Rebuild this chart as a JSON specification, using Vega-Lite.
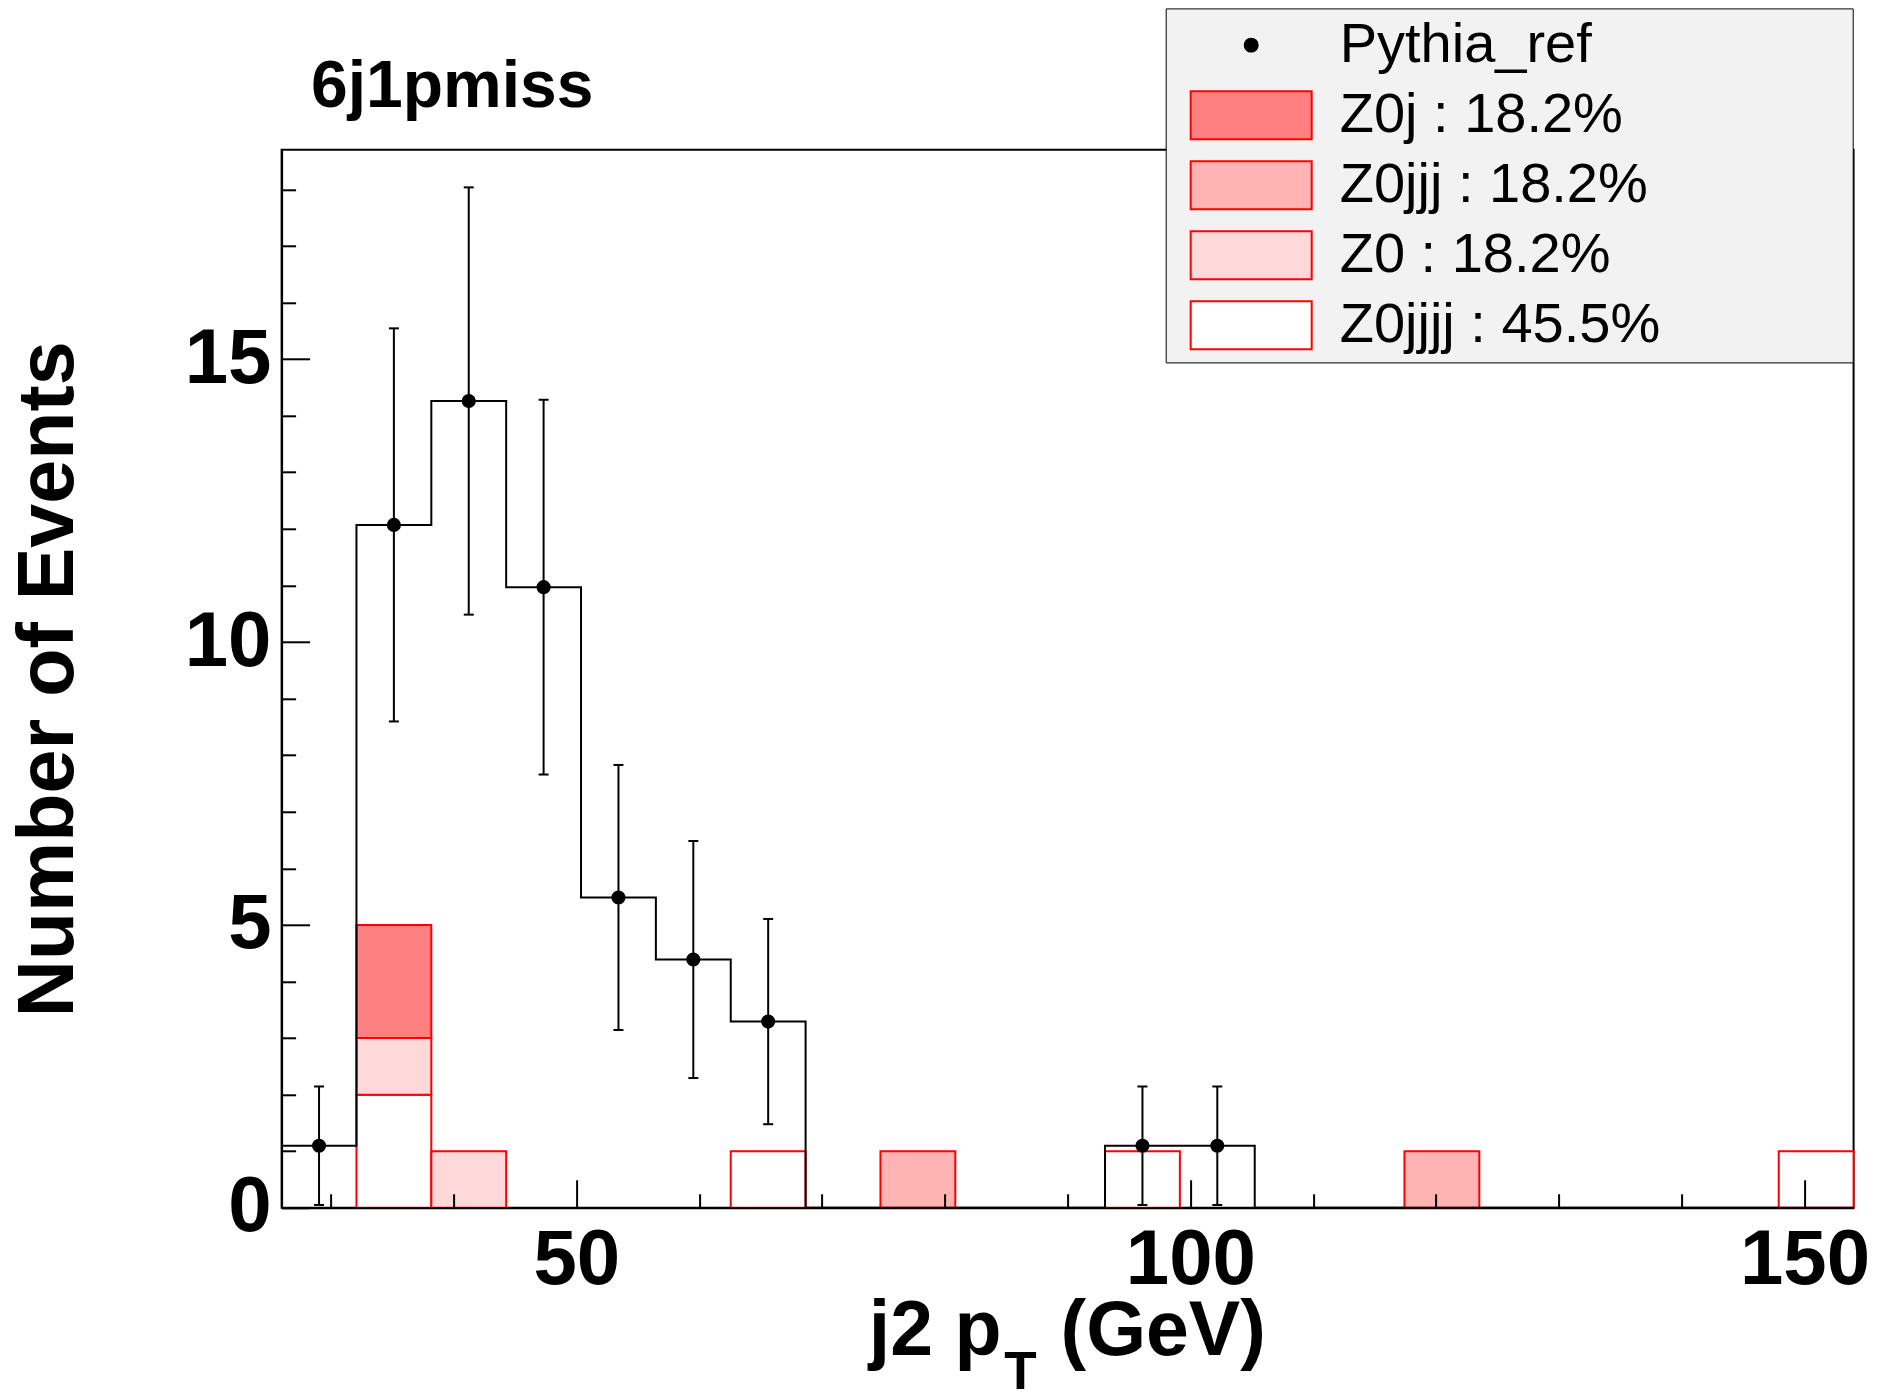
{
  "$schema": "https://vega.github.io/schema/vega-lite/v6.json",
  "width": 1572,
  "height": 1058,
  "autosize": "none",
  "padding": {"left": 281.6, "top": 149.8, "right": 25.5, "bottom": 192.4},
  "background": "white",
  "title": {"text": "6j1pmiss", "anchor": "start", "frame": "group", "orient": "top", "dx": 29.4, "offset": -165, "baseline": "alphabetic", "font": "Liberation Sans", "fontSize": 66, "fontWeight": "bold", "color": "black"},
  "datasets": {
    "stack": [
      {"series": "Z0jjjj", "x0": 32.0952, "x1": 38.1905, "n": 2, "ord": 1},
      {"series": "Z0", "x0": 32.0952, "x1": 38.1905, "n": 1, "ord": 2},
      {"series": "Z0j", "x0": 32.0952, "x1": 38.1905, "n": 2, "ord": 4},
      {"series": "Z0", "x0": 38.1905, "x1": 44.2857, "n": 1, "ord": 2},
      {"series": "Z0jjjj", "x0": 62.5714, "x1": 68.6667, "n": 1, "ord": 1},
      {"series": "Z0jjj", "x0": 74.7619, "x1": 80.8571, "n": 1, "ord": 3},
      {"series": "Z0jjjj", "x0": 93.0476, "x1": 99.1429, "n": 1, "ord": 1},
      {"series": "Z0jjj", "x0": 117.4286, "x1": 123.5238, "n": 1, "ord": 3},
      {"series": "Z0jjjj", "x0": 147.9048, "x1": 154.0, "n": 1, "ord": 1}
    ],
    "hist": [
      {"edge": 26.0, "value": 1.097},
      {"edge": 32.0952, "value": 12.07},
      {"edge": 38.1905, "value": 14.26},
      {"edge": 44.2857, "value": 10.97},
      {"edge": 50.381, "value": 5.485},
      {"edge": 56.4762, "value": 4.388},
      {"edge": 62.5714, "value": 3.291},
      {"edge": 68.6667, "value": 0},
      {"edge": 74.7619, "value": 0},
      {"edge": 80.8571, "value": 0},
      {"edge": 86.9524, "value": 0},
      {"edge": 93.0476, "value": 1.097},
      {"edge": 99.1429, "value": 1.097},
      {"edge": 105.2381, "value": 0},
      {"edge": 111.3333, "value": 0},
      {"edge": 117.4286, "value": 0},
      {"edge": 123.5238, "value": 0},
      {"edge": 129.619, "value": 0},
      {"edge": 135.7143, "value": 0},
      {"edge": 141.8095, "value": 0},
      {"edge": 147.9048, "value": 0},
      {"edge": 154.0, "value": 0}
    ],
    "pts": [
      {"center": 29.048, "value": 1.097, "lo": 0.05, "hi": 2.144},
      {"center": 35.143, "value": 12.07, "lo": 8.596, "hi": 15.544},
      {"center": 41.238, "value": 14.26, "lo": 10.484, "hi": 18.036},
      {"center": 47.333, "value": 10.97, "lo": 7.658, "hi": 14.282},
      {"center": 53.429, "value": 5.485, "lo": 3.143, "hi": 7.827},
      {"center": 59.524, "value": 4.388, "lo": 2.293, "hi": 6.483},
      {"center": 65.619, "value": 3.291, "lo": 1.477, "hi": 5.105},
      {"center": 96.095, "value": 1.097, "lo": 0.05, "hi": 2.144},
      {"center": 102.19, "value": 1.097, "lo": 0.05, "hi": 2.144}
    ]
  },
  "layer": [
    {
      "data": {"name": "stack"},
      "transform": [{"stack": "n", "groupby": ["x0"], "sort": [{"field": "ord", "order": "ascending"}], "as": ["s0", "s1"]}],
      "mark": {"type": "rect", "stroke": "red", "strokeWidth": 2, "fillOpacity": 1, "opacity": 1},
      "encoding": {
        "x": {"field": "x0", "type": "quantitative", "scale": {"domain": [26, 154], "nice": false, "zero": false, "padding": 0},
          "axis": {"orient": "bottom", "values": [50, 100, 150], "tickSize": -28, "tickWidth": 2, "tickColor": "black", "labelFont": "Liberation Sans", "labelFontWeight": "bold", "labelFontSize": 78, "labelColor": "black", "labelPadding": 42, "labelFlush": false, "labelOverlap": false, "labelBaseline": "top", "domain": true, "domainColor": "black", "domainWidth": 2, "grid": false, "zindex": 1,
            "title": "j2 p", "titleFont": "Liberation Sans", "titleFontWeight": "bold", "titleFontSize": 77, "titleColor": "black", "titleX": 719.4, "titleY": 146.4, "titleAlign": "right", "titleBaseline": "alphabetic", "titleAngle": 0}},
        "x2": {"field": "x1"},
        "y": {"field": "s0", "type": "quantitative", "scale": {"domain": [0, 18.7], "nice": false, "zero": false, "padding": 0},
          "axis": {"orient": "left", "values": [0, 5, 10, 15], "tickSize": -28, "tickWidth": 2, "tickColor": "black", "labelFont": "Liberation Sans", "labelFontWeight": "bold", "labelFontSize": 78, "labelColor": "black", "labelPadding": 38.6, "labelFlush": false, "labelOverlap": false, "domain": true, "domainColor": "black", "domainWidth": 2, "grid": false, "zindex": 1,
            "title": "Number of Events", "titleFont": "Liberation Sans", "titleFontWeight": "bold", "titleFontSize": 79, "titleColor": "black", "titleX": -209.6, "titleY": 529, "titleAngle": -90, "titleAlign": "center", "titleBaseline": "alphabetic"}},
        "y2": {"field": "s1"},
        "fill": {"field": "series", "type": "nominal",
          "scale": {"domain": ["Pythia_ref", "Z0j", "Z0jjj", "Z0", "Z0jjjj"], "range": ["black", "#ff8080", "#ffb3b3", "#ffd9d9", "white"]},
          "legend": {
            "orient": "none", "legendX": 884.1, "legendY": -141.4,
            "title": "\u00a0", "titleOrient": "right", "titlePadding": 190, "titleFontSize": 10,
            "fillColor": "#f2f2f2", "strokeColor": "black",
            "padding": 2, "symbolOffset": 22, "labelOffset": 27, "clipHeight": 69.5, "rowPadding": 0,
            "symbolSize": 14641, "symbolStrokeWidth": 2, "symbolOpacity": 1,
            "labelFont": "Liberation Sans", "labelFontSize": 56, "labelColor": "black", "labelLimit": 800,
            "labelExpr": "datum.label === 'Z0j' ? 'Z0j : 18.2%' : datum.label === 'Z0jjj' ? 'Z0jjj : 18.2%' : datum.label === 'Z0' ? 'Z0 : 18.2%' : datum.label === 'Z0jjjj' ? 'Z0jjjj : 45.5%' : datum.label"
          }}
      }
    },
    {
      "data": {"name": "stack"},
      "mark": {"type": "point", "filled": false, "opacity": 0, "size": 14641},
      "encoding": {
        "x": {"field": "x0", "type": "quantitative", "scale": {"domain": [26, 154], "nice": false, "zero": false, "padding": 0}, "axis": null},
        "y": {"field": "n", "type": "quantitative", "scale": {"domain": [0, 18.7], "nice": false, "zero": false, "padding": 0}, "axis": null},
        "shape": {"field": "series", "type": "nominal",
          "scale": {"domain": ["Pythia_ref", "Z0j", "Z0jjj", "Z0", "Z0jjjj"], "range": ["M-0.107,0A0.107,0.107,0,1,1,0.107,0A0.107,0.107,0,1,1,-0.107,0Z", "M-1,-0.397H1V0.397H-1Z", "M-1,-0.397H1V0.397H-1Z", "M-1,-0.397H1V0.397H-1Z", "M-1,-0.397H1V0.397H-1Z"]},
          "legend": {
            "orient": "none", "legendX": 884.1, "legendY": -141.4,
            "title": "\u00a0", "titleOrient": "right", "titlePadding": 190, "titleFontSize": 10,
            "fillColor": "#f2f2f2", "strokeColor": "black",
            "padding": 2, "symbolOffset": 22, "labelOffset": 27, "clipHeight": 69.5, "rowPadding": 0,
            "symbolSize": 14641, "symbolStrokeWidth": 2, "symbolOpacity": 1,
            "labelFont": "Liberation Sans", "labelFontSize": 56, "labelColor": "black", "labelLimit": 800,
            "labelExpr": "datum.label === 'Z0j' ? 'Z0j : 18.2%' : datum.label === 'Z0jjj' ? 'Z0jjj : 18.2%' : datum.label === 'Z0' ? 'Z0 : 18.2%' : datum.label === 'Z0jjjj' ? 'Z0jjjj : 45.5%' : datum.label"
          }},
        "stroke": {"field": "series", "type": "nominal",
          "scale": {"domain": ["Pythia_ref", "Z0j", "Z0jjj", "Z0", "Z0jjjj"], "range": ["black", "red", "red", "red", "red"]},
          "legend": {
            "orient": "none", "legendX": 884.1, "legendY": -141.4,
            "title": "\u00a0", "titleOrient": "right", "titlePadding": 190, "titleFontSize": 10,
            "fillColor": "#f2f2f2", "strokeColor": "black",
            "padding": 2, "symbolOffset": 22, "labelOffset": 27, "clipHeight": 69.5, "rowPadding": 0,
            "symbolSize": 14641, "symbolStrokeWidth": 2, "symbolOpacity": 1,
            "labelFont": "Liberation Sans", "labelFontSize": 56, "labelColor": "black", "labelLimit": 800,
            "labelExpr": "datum.label === 'Z0j' ? 'Z0j : 18.2%' : datum.label === 'Z0jjj' ? 'Z0jjj : 18.2%' : datum.label === 'Z0' ? 'Z0 : 18.2%' : datum.label === 'Z0jjjj' ? 'Z0jjjj : 45.5%' : datum.label"
          }}
      }
    },
    {
      "data": {"name": "hist"},
      "mark": {"type": "line", "interpolate": "step-after", "color": "black", "strokeWidth": 2},
      "encoding": {
        "x": {"field": "edge", "type": "quantitative", "scale": {"domain": [26, 154], "nice": false, "zero": false, "padding": 0},
          "axis": {"orient": "bottom", "values": [30, 40, 60, 70, 80, 90, 110, 120, 130, 140], "tickSize": -14, "tickWidth": 2, "tickColor": "black", "labels": false, "domain": false, "grid": false, "zindex": 1,
            "title": "T", "titleFont": "Liberation Sans", "titleFontWeight": "bold", "titleFontSize": 53, "titleColor": "black", "titleX": 738.4, "titleY": 181, "titleAlign": "center", "titleBaseline": "alphabetic", "titleAngle": 0}},
        "y": {"field": "value", "type": "quantitative", "scale": {"domain": [0, 18.7], "nice": false, "zero": false, "padding": 0},
          "axis": {"orient": "left", "values": [1, 2, 3, 4, 6, 7, 8, 9, 11, 12, 13, 14, 16, 17, 18], "tickSize": -14, "tickWidth": 2, "tickColor": "black", "labels": false, "domain": false, "grid": false, "zindex": 1, "title": null}}
      }
    },
    {
      "data": {"name": "pts"},
      "mark": {"type": "rule", "color": "black", "strokeWidth": 2},
      "encoding": {
        "x": {"field": "center", "type": "quantitative", "scale": {"domain": [26, 154], "nice": false, "zero": false, "padding": 0},
          "axis": {"orient": "bottom", "ticks": false, "labels": false, "domain": false, "grid": false,
            "title": "(GeV)", "titleFont": "Liberation Sans", "titleFontWeight": "bold", "titleFontSize": 77, "titleColor": "black", "titleX": 778.4, "titleY": 146.4, "titleAlign": "left", "titleBaseline": "alphabetic", "titleAngle": 0}},
        "y": {"field": "lo", "type": "quantitative", "scale": {"domain": [0, 18.7], "nice": false, "zero": false, "padding": 0}, "axis": null},
        "y2": {"field": "hi"}
      }
    },
    {
      "data": {"name": "pts"},
      "mark": {"type": "tick", "orient": "horizontal", "color": "black", "size": 10, "thickness": 2, "opacity": 1},
      "encoding": {
        "x": {"field": "center", "type": "quantitative", "scale": {"domain": [26, 154], "nice": false, "zero": false, "padding": 0}, "axis": null},
        "y": {"field": "lo", "type": "quantitative", "scale": {"domain": [0, 18.7], "nice": false, "zero": false, "padding": 0}, "axis": null}
      }
    },
    {
      "data": {"name": "pts"},
      "mark": {"type": "tick", "orient": "horizontal", "color": "black", "size": 10, "thickness": 2, "opacity": 1},
      "encoding": {
        "x": {"field": "center", "type": "quantitative", "scale": {"domain": [26, 154], "nice": false, "zero": false, "padding": 0}, "axis": null},
        "y": {"field": "hi", "type": "quantitative", "scale": {"domain": [0, 18.7], "nice": false, "zero": false, "padding": 0}, "axis": null}
      }
    },
    {
      "data": {"name": "pts"},
      "mark": {"type": "circle", "color": "black", "size": 200, "opacity": 1},
      "encoding": {
        "x": {"field": "center", "type": "quantitative", "scale": {"domain": [26, 154], "nice": false, "zero": false, "padding": 0}, "axis": null},
        "y": {"field": "value", "type": "quantitative", "scale": {"domain": [0, 18.7], "nice": false, "zero": false, "padding": 0}, "axis": null}
      }
    }
  ],
  "resolve": {"axis": {"x": "independent", "y": "independent"}},
  "config": {
    "font": "Liberation Sans",
    "view": {"stroke": "black", "strokeWidth": 2},
    "axis": {"zindex": 1}
  }
}
